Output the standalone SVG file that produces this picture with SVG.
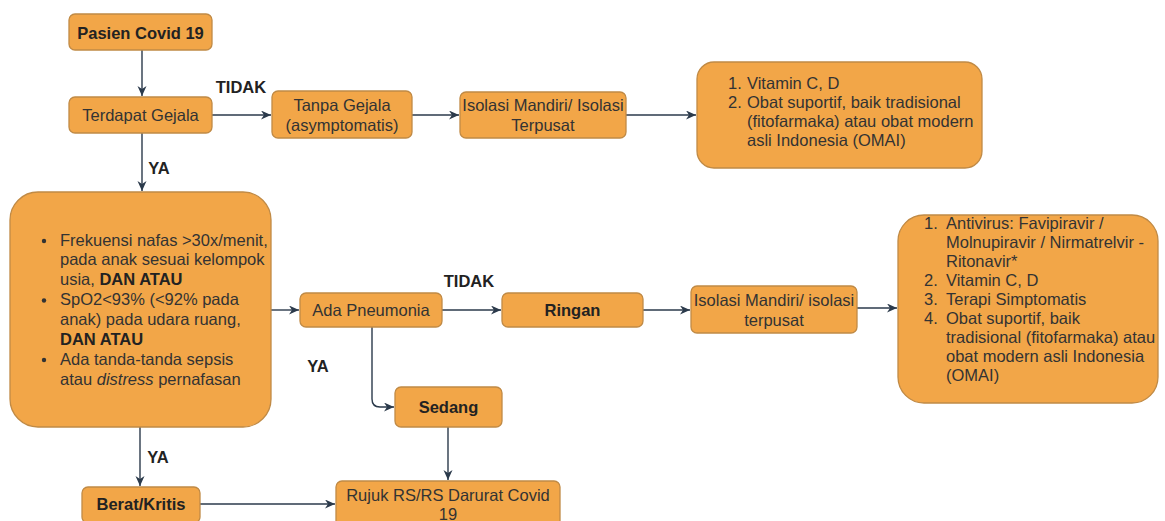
<svg xmlns="http://www.w3.org/2000/svg" width="1165" height="521" viewBox="0 0 1165 521">
<style>
.n{fill:#F2A648;stroke:#C08A45;stroke-width:1.3}
.t{font-family:"Liberation Sans",Arial,sans-serif;font-size:16.5px;fill:#333333}
.b{font-weight:bold;fill:#222222}
.c{text-anchor:middle}
.e{fill:none;stroke:#2B3A4B;stroke-width:1.4}
</style>
<defs>
<marker id="ah" markerUnits="userSpaceOnUse" markerWidth="12" markerHeight="10" refX="10" refY="4.5" orient="auto">
<path d="M0,0 L10,4.5 L0,9 L3,4.5 z" fill="#2B3A4B"/>
</marker>
</defs>
<rect width="1165" height="521" fill="#FFFFFF"/>
<g id="connectors">
<path class="e" d="M142,50 L142,96" marker-end="url(#ah)"/>
<path class="e" d="M212,115 L271,115" marker-end="url(#ah)"/>
<path class="e" d="M412,115 L459,115" marker-end="url(#ah)"/>
<path class="e" d="M626,115 L696,115" marker-end="url(#ah)"/>
<path class="e" d="M142,133 L142,191" marker-end="url(#ah)"/>
<path class="e" d="M271,310 L299,310" marker-end="url(#ah)"/>
<path class="e" d="M442,310 L501,310" marker-end="url(#ah)"/>
<path class="e" d="M643,310 L690,310" marker-end="url(#ah)"/>
<path class="e" d="M857,308 L897,308" marker-end="url(#ah)"/>
<path class="e" d="M372,327 L372,399 Q372,407 380,407 L394,407" marker-end="url(#ah)"/>
<path class="e" d="M448,427 L448,480" marker-end="url(#ah)"/>
<path class="e" d="M140,427 L140,486" marker-end="url(#ah)"/>
<path class="e" d="M200,504 L335,504" marker-end="url(#ah)"/>
<text class="t b c" x="241" y="92.6">TIDAK</text>
<text class="t b c" x="159" y="173.6">YA</text>
<text class="t b c" x="469" y="286.6">TIDAK</text>
<text class="t b c" x="318" y="371.6">YA</text>
<text class="t b c" x="158" y="462.6">YA</text>
</g>
<g id="pasien">
<rect class="n" x="69" y="14" width="143" height="36" rx="6"/>
<text class="t b c" x="140.5" y="38.6">Pasien Covid 19</text>
</g>
<g id="terdapat">
<rect class="n" x="69" y="97" width="143" height="36" rx="6"/>
<text class="t c" x="140.5" y="120.6">Terdapat Gejala</text>
</g>
<g id="tanpa">
<rect class="n" x="272" y="91" width="140" height="47" rx="6"/>
<text class="t c" x="342" y="110.6">Tanpa Gejala</text>
<text class="t c" x="342" y="130.6">(asymptomatis)</text>
</g>
<g id="isolasi1">
<rect class="n" x="460" y="92" width="166" height="46" rx="6"/>
<text class="t c" x="543" y="110.6">Isolasi Mandiri/ Isolasi</text>
<text class="t c" x="543" y="130.6">Terpusat</text>
</g>
<g id="vitamin">
<rect class="n" x="697" y="62" width="285" height="106" rx="17"/>
<text class="t" x="728" y="88.6">1.</text>
<text class="t" x="747" y="88.6">Vitamin C, D</text>
<text class="t" x="728" y="107.6">2.</text>
<text class="t" x="747" y="107.6">Obat suportif, baik tradisional</text>
<text class="t" x="747" y="126.6">(fitofarmaka) atau obat modern</text>
<text class="t" x="747" y="145.6">asli Indonesia (OMAI)</text>
</g>
<g id="kriteria">
<rect class="n" x="10" y="192" width="261" height="235" rx="28"/>
<circle cx="44" cy="241" r="2.2" fill="#333333"/>
<circle cx="44" cy="300.5" r="2.2" fill="#333333"/>
<circle cx="44" cy="360" r="2.2" fill="#333333"/>
<text class="t" x="60" y="245.6">Frekuensi nafas &gt;30x/menit,</text>
<text class="t" x="60" y="265.4">pada anak sesuai kelompok</text>
<text class="t" x="60" y="285.3">usia, <tspan class="b">DAN ATAU</tspan></text>
<text class="t" x="60" y="305.1">SpO2&lt;93% (&lt;92% pada</text>
<text class="t" x="60" y="325">anak) pada udara ruang,</text>
<text class="t b" x="60" y="344.8">DAN ATAU</text>
<text class="t" x="60" y="364.7">Ada tanda-tanda sepsis</text>
<text class="t" x="60" y="384.5">atau <tspan font-style="italic">distress</tspan> pernafasan</text>
</g>
<g id="pneumonia">
<rect class="n" x="300" y="293" width="142" height="34" rx="6"/>
<text class="t c" x="371" y="315.6">Ada Pneumonia</text>
</g>
<g id="ringan">
<rect class="n" x="502" y="293" width="141" height="34" rx="6"/>
<text class="t b c" x="572.5" y="315.6">Ringan</text>
</g>
<g id="isolasi2">
<rect class="n" x="691" y="286" width="166" height="47" rx="6"/>
<text class="t c" x="774" y="305.6">Isolasi Mandiri/ isolasi</text>
<text class="t c" x="774" y="325.6">terpusat</text>
</g>
<g id="terapi">
<rect class="n" x="898" y="215" width="260" height="188" rx="26"/>
<text class="t" x="924" y="228.6">1.</text>
<text class="t" x="946" y="228.6">Antivirus: Favipiravir /</text>
<text class="t" x="946" y="247.6">Molnupiravir / Nirmatrelvir -</text>
<text class="t" x="946" y="266.6">Ritonavir*</text>
<text class="t" x="924" y="285.6">2.</text>
<text class="t" x="946" y="285.6">Vitamin C, D</text>
<text class="t" x="924" y="304.6">3.</text>
<text class="t" x="946" y="304.6">Terapi Simptomatis</text>
<text class="t" x="924" y="323.6">4.</text>
<text class="t" x="946" y="323.6">Obat suportif, baik</text>
<text class="t" x="946" y="342.6">tradisional (fitofarmaka) atau</text>
<text class="t" x="946" y="361.6">obat modern asli Indonesia</text>
<text class="t" x="946" y="380.6">(OMAI)</text>
</g>
<g id="sedang">
<rect class="n" x="395" y="387" width="107" height="40" rx="6"/>
<text class="t b c" x="448.5" y="412.6">Sedang</text>
</g>
<g id="berat">
<rect class="n" x="82" y="487" width="118" height="36" rx="6"/>
<text class="t b c" x="141" y="509.6">Berat/Kritis</text>
</g>
<g id="rujuk">
<rect class="n" x="336" y="481" width="224" height="48" rx="6"/>
<text class="t c" x="448" y="500.6">Rujuk RS/RS Darurat Covid</text>
<text class="t c" x="448" y="519.6">19</text>
</g>
</svg>
